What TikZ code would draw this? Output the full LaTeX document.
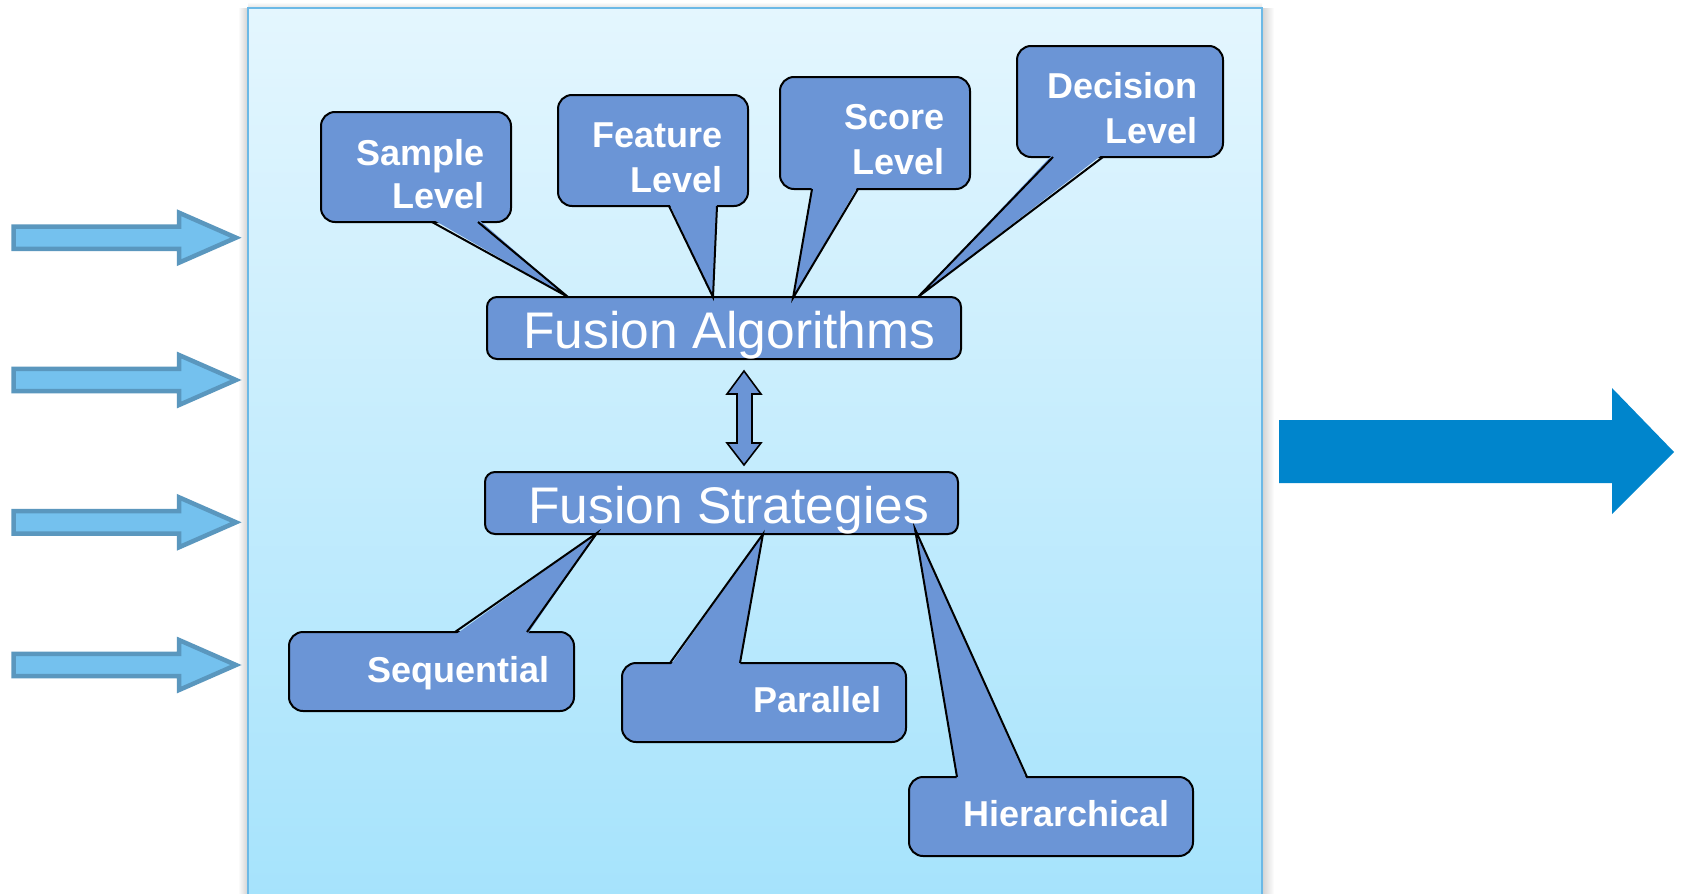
\documentclass[tikz,border=0pt]{standalone}
\usepackage{fontspec}
\setmainfont{Liberation Sans}
\usetikzlibrary{calc}
\definecolor{cfill}{HTML}{6B95D6}
\definecolor{panelTop}{HTML}{E4F6FE}
\definecolor{panelBot}{HTML}{A6E3FC}
\definecolor{panelLine}{HTML}{6CB9E6}
\definecolor{inFill}{HTML}{74C1EE}
\definecolor{inLine}{HTML}{5A97BE}
\definecolor{outFill}{HTML}{0085CC}
\tikzset{
  cbox/.style={draw=black, line width=2pt, fill=cfill, rounded corners=14pt, inner sep=0pt},
  mainbox/.style={draw=black, line width=2pt, fill=cfill, rounded corners=10pt, inner sep=0pt,
    minimum width=473pt, minimum height=62pt},
  cline/.style={draw=black, line width=2pt, line join=miter},
  ctext/.style={text=white, inner sep=0pt, anchor=base east, font=\fontsize{36}{43}\selectfont\bfseries},
  mtext/.style={text=white, inner sep=0pt, anchor=base west, font=\fontsize{51.5}{60}\selectfont},
  inarrow/.style={fill=inFill, draw=inLine, line width=4.5pt, line join=miter},
}
\newcommand{\ptr}[5]{%
  \fill[cfill] (#1,#4) -- (#5) -- (#2,#4) -- cycle;
  \draw[cline] (#1,#3) -- (#5) -- (#2,#3);
}
\newcommand{\inarrowat}[1]{%
  \draw[inarrow] (13.5,#1-11.2) -- (179,#1-11.2) -- (179,#1-25) -- (236,#1) -- (179,#1+25)
    -- (179,#1+11.2) -- (13.5,#1+11.2) -- cycle;
}
\begin{document}
\begin{tikzpicture}[x=1pt,y=-1pt]
\useasboundingbox (0,0) rectangle (1682,894);
\fill[white] (0,0) rectangle (1682,894);

% panel shadow
\shade[left color=white, right color=black!18] (238,8) rectangle (248,894);
\shade[left color=black!18, right color=white] (1262,8) rectangle (1274,894);
\shade[top color=white, bottom color=black!12] (248,2) rectangle (1262,8);
% panel
\shade[top color=panelTop, bottom color=panelBot, draw=panelLine, line width=2pt]
  (248,8) rectangle (1262,896);

% input arrows
\inarrowat{237.7}
\inarrowat{380}
\inarrowat{522.3}
\inarrowat{665}

% output arrow
\fill[outFill] (1279,420) -- (1612,420) -- (1612,388) -- (1674,452) -- (1612,514)
  -- (1612,483) -- (1279,483) -- cycle;

% main boxes
\node[mainbox, minimum width=474pt] (FA) at (724,328) {};
\node[mainbox] (FS) at (721.5,503) {};

% double arrow between them
\coordinate (dTop) at ($(FA.south)+(20,11)$);
\coordinate (dBot) at ($(FS.north)+(22.5,-6)$);
\draw[cline, line width=1.6pt, fill=cfill] (dTop) -- ++(17,23) -- ++(-9,0) -- ($(dBot)+(8,-22)$)
  -- ++(9,0) -- (dBot) -- ++(-17,-22) -- ++(10,0) -- ($(dTop)+(-7,23)$) -- ++(-10,0) -- cycle;

% upper callouts
\node[cbox, minimum width=190pt, minimum height=110pt] (sample) at (416,167) {};
\node[cbox, minimum width=190pt, minimum height=111pt] (feature) at (653,150.5) {};
\node[cbox, minimum width=190pt, minimum height=112pt] (score) at (875,133) {};
\node[cbox, minimum width=206pt, minimum height=111pt] (decision) at (1120,101.5) {};

\coordinate (tSample) at (568,297);
\coordinate (tFeature) at (713,297);
\coordinate (tScore) at (793,298);
\coordinate (tDecision) at (918,297);
\ptr{432}{478}{222}{219}{tSample}
\ptr{669}{717}{206}{203}{tFeature}
\ptr{812}{858}{189}{186}{tScore}
\ptr{1053}{1103}{157}{154}{tDecision}

% lower callouts
\node[cbox, minimum width=285pt, minimum height=79pt] (seq) at (431.5,671.5) {};
\node[cbox, minimum width=284pt, minimum height=79pt] (par) at (764,702.5) {};
\node[cbox, minimum width=284pt, minimum height=79pt] (hier) at (1051,816.5) {};

\coordinate (tSeq) at (597,533);
\coordinate (tPar) at (763,534);
\coordinate (tHier) at (915,529);
\ptr{455}{527}{632}{635}{tSeq}
\ptr{670}{740}{663}{666}{tPar}
\ptr{957}{1027}{777}{780}{tHier}

% texts
\node[mtext] (faT) at (523,348) {Fusion Algorithms};
\node[mtext] (fsT) at (528,523) {Fusion Strategies};

\node[ctext] (sampleT1) at (485,165) {Sample};
\node[ctext] (sampleT2) at (485,208) {Level};
\node[ctext] (featureT1) at (723,147) {Feature};
\node[ctext] (featureT2) at (723,192) {Level};
\node[ctext] (scoreT1) at (945,129) {Score};
\node[ctext] (scoreT2) at (945,174) {Level};
\node[ctext] (decisionT1) at (1198,98) {Decision};
\node[ctext] (decisionT2) at (1198,143) {Level};

\node[ctext] (seqT) at (550,682) {Sequential};
\node[ctext] (parT) at (882,712) {Parallel};
\node[ctext] (hierT) at (1170,826) {Hierarchical};
\end{tikzpicture}
\end{document}
